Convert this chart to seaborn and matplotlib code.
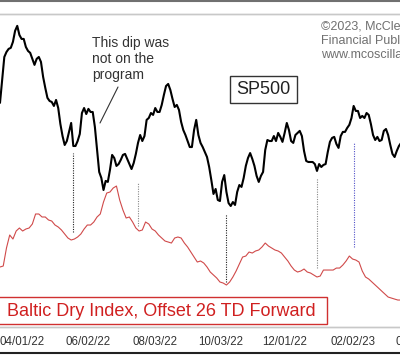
import matplotlib
matplotlib.use("Agg")
import matplotlib.pyplot as plt
import matplotlib.dates as mdates
from matplotlib.lines import Line2D
from matplotlib.patches import Rectangle
import numpy as np
import pandas as pd
import seaborn as sns

# S&P 500, every 2 calendar days from 2022-03-12
sp500 = [4183, 4316, 4450, 4479, 4497, 4503, 4538, 4602, 4631, 4578,
         4555, 4555, 4508, 4485, 4474, 4439, 4404, 4439, 4450, 4421,
         4334, 4270, 4212, 4194, 4188, 4165, 4200, 4153, 4060, 3990,
         3938, 3961, 4014, 4066, 3932, 3932, 3961, 4002, 4124, 4153,
         4118, 4148, 4130, 4130, 4043, 3909, 3781, 3746, 3676, 3729,
         3723, 3793, 3880, 3862, 3816, 3827, 3851, 3880, 3886, 3857,
         3827, 3798, 3833, 3886, 3950, 3996, 3961, 3990, 4084, 4095,
         4124, 4113, 4153, 4130, 4130, 4171, 4229, 4281, 4293, 4258,
         4206, 4159, 4171, 4142, 4072, 4025, 3996, 3961, 3926, 3926,
         4025, 4084, 3996, 3950, 3926, 3897, 3868, 3810, 3734, 3653,
         3682, 3618, 3612, 3723, 3763, 3665, 3600, 3583, 3606, 3589,
         3665, 3705, 3694, 3746, 3816, 3862, 3891, 3857, 3816, 3758,
         3723, 3758, 3781, 3909, 3967, 3961, 3961, 3990, 3961, 4008,
         3985, 3956, 4008, 4066, 4025, 3961, 3950, 3996, 4008, 4020,
         3990, 3903, 3845, 3839, 3839, 3839, 3827, 3787, 3827, 3810,
         3822, 3827, 3897, 3956, 3979, 3985, 3944, 3921, 3990, 4014,
         4014, 4037, 4055, 4095, 4165, 4136, 4136, 4095, 4107, 4095,
         4124, 4113, 4060, 3996, 3967, 3985, 3961, 3967, 4020, 4031,
         3996, 3938, 3886, 3868, 3903, 3932, 3950]

# Baltic Dry Index shifted 26 trading days forward, every 3 calendar days
bdi = [1344, 1368, 1813, 2134, 2035, 2233, 2307, 2233, 2282, 2307,
       2406, 2653, 2653, 2579, 2579, 2505, 2480, 2381, 2332, 2258,
       2159, 2060, 2011, 2035, 2085, 2159, 2282, 2381, 2381, 2455,
       2579, 2653, 2949, 3171, 3196, 3295, 3344, 2999, 2752, 2554,
       2579, 2455, 2307, 2233, 2258, 2455, 2406, 2282, 2233, 2134,
       2060, 1986, 1961, 1936, 2060, 2085, 2060, 1936, 1838, 1714,
       1590, 1467, 1492, 1442, 1344, 1220, 1146, 1072, 973, 948,
       899, 973, 1097, 1245, 1418, 1590, 1615, 1714, 1689, 1739,
       1764, 1838, 1936, 1862, 1813, 1764, 1739, 1689, 1590, 1492,
       1368, 1269, 1220, 1245, 1294, 1220, 1195, 1146, 1097, 1121,
       1269, 1269, 1269, 1269, 1318, 1318, 1393, 1492, 1615, 1541,
       1516, 1467, 1245, 1097, 1047, 973, 899, 825, 750, 676,
       602, 577, 552, 528, 528]

sp_dates = pd.date_range("2022-03-12", periods=len(sp500), freq="2D")
bdi_dates = pd.date_range("2022-03-12", periods=len(bdi), freq="3D")

# dotted links between matching turns
link_dates = pd.to_datetime(["2022-05-19", "2022-07-18", "2022-10-08",
                             "2022-12-31", "2023-02-03"])
link_top = [3892, 3723, 3537, 3746, 3950]
link_bottom = [3432, 3467, 3141, 3222, 3344]
link_colors = ["#222222", "#888888", "#222222", "#888888", "#5050c8"]

tick_dates = pd.to_datetime(["2022-04-01", "2022-06-02", "2022-08-03",
                             "2022-10-03", "2022-12-01", "2023-02-02"])

df_sp = pd.DataFrame({"date": sp_dates, "value": sp500})
df_bdi = pd.DataFrame({"date": bdi_dates, "value": bdi})

sns.set_style("white")
plt.rcParams["font.family"] = ["Liberation Sans", "DejaVu Sans"]

fig = plt.figure(figsize=(4, 3.55), dpi=100)
ax = fig.add_axes([0, 28 / 355, 1, 313 / 355])
ax2 = ax.twinx()

sns.lineplot(data=df_bdi, x="date", y="value", ax=ax2, color="#d04a4a", lw=0.8)
sns.lineplot(data=df_sp, x="date", y="value", ax=ax, color="black", lw=1.5)
ax.set_zorder(ax2.get_zorder() + 1)
ax.patch.set_visible(False)

for d, t, b, c in zip(link_dates, link_top, link_bottom, link_colors):
    ax.vlines(d, b, t, colors=c, linestyles=(0, (1, 1.2)), lw=0.8)

ax.set_xlim(pd.Timestamp("2022-03-12"), pd.Timestamp("2023-03-18"))
ax.set_ylim(2879, 4700)
ax2.set_ylim(-138, 7593)

ax.set_xticks(tick_dates)
ax.xaxis.set_major_formatter(mdates.DateFormatter("%m/%d/%y"))
ax.tick_params(axis="x", length=0, pad=6.5, labelsize=8.3, labelcolor="#333333")
ax.set_yticks([])
ax2.set_yticks([])
ax.set_xlabel("")
ax.set_ylabel("")
ax2.set_ylabel("")
for a in (ax, ax2):
    for side in ("left", "right"):
        a.spines[side].set_visible(False)
    for side in ("top", "bottom"):
        a.spines[side].set_color("#c8c8c8")
        a.spines[side].set_linewidth(1)

# next tick label, cut by the right edge
ax.annotate("04/04/23", xy=(pd.Timestamp("2023-04-04"), 0),
            xycoords=("data", "axes fraction"), xytext=(0, -6.5),
            textcoords="offset points", ha="center", va="top",
            fontsize=8.3, color="#333333", annotation_clip=False)

# labels and boxes
fig.patches.append(Rectangle((230 / 400, 1 - 103 / 355), 67 / 400, 27 / 355,
                             transform=fig.transFigure, fill=False,
                             edgecolor="#333333", lw=1))
fig.text(263.5 / 400, 1 - 89.5 / 355, "SP500", ha="center", va="center",
         fontsize=13, color="#222222")

fig.patches.append(Rectangle((-2 / 400, 1 - 324 / 355), 329 / 400, 27 / 355,
                             transform=fig.transFigure, facecolor="white",
                             edgecolor="#d03030", lw=1))
fig.text(7 / 400, 1 - 311 / 355, "Baltic Dry Index, Offset 26 TD Forward",
         ha="left", va="center", fontsize=13, color="#d02020")

fig.text(92 / 400, 1 - 59 / 355, "This dip was\nnot on the\nprogram",
         ha="left", va="center", fontsize=10, color="#333333", linespacing=1.2)
fig.add_artist(Line2D([118 / 400, 100 / 400], [1 - 87 / 355, 1 - 123 / 355],
                      color="#333333", lw=0.8))

fig.text(321 / 400, 1 - 41 / 355,
         "\u00a92023, McClellan\nFinancial Publications\nwww.mcoscillator.com",
         ha="left", va="center", fontsize=9, color="#707070", linespacing=1.25)

# frame lines of the original image
fig.add_artist(Line2D([0, 1], [1 - 0.8 / 355, 1 - 0.8 / 355], color="#707070", lw=1.5))
fig.add_artist(Line2D([0, 1], [1 - 353 / 355, 1 - 353 / 355], color="#222222", lw=1.5))

fig.savefig("out.png", dpi=100)
